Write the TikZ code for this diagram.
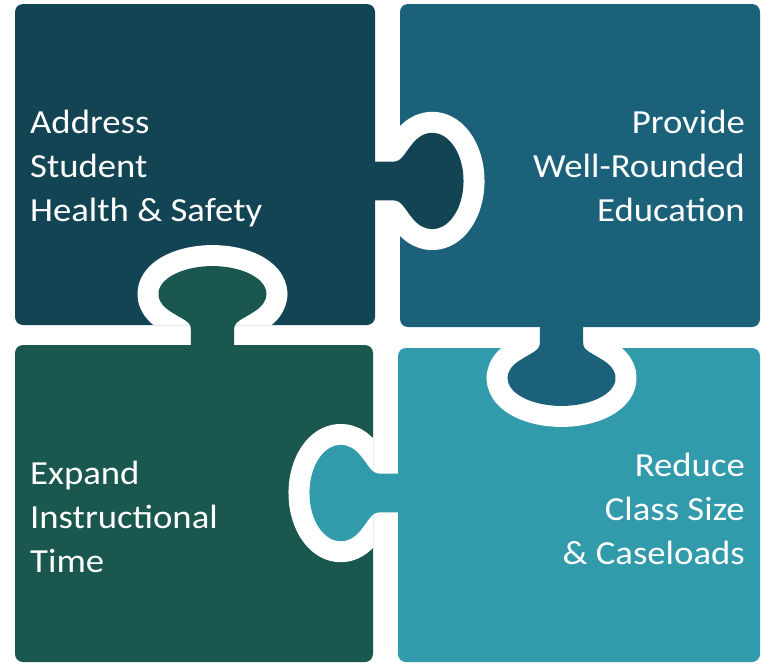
\documentclass[tikz,border=0pt]{standalone}
\usepackage{fontspec}
\setmainfont{Carlito}
\newfontfamily\piecefont[FakeStretch=1.09]{Carlito}
\usepackage{xcolor}
\usetikzlibrary{calc}

\definecolor{pieceTL}{RGB}{19,68,84}
\definecolor{pieceTR}{RGB}{27,97,121}
\definecolor{pieceBL}{RGB}{26,87,79}
\definecolor{pieceBR}{RGB}{49,154,171}

% one tab, pointing along +x, neck starting at the edge of its own piece
\def\knobpath{(-4,-20.5) -- (17,-20.5) .. controls (25,-20.5) and (26.5,-27.3) .. (35.7,-40)
  arc[start angle=-128.4, end angle=128.4, x radius=29.5, y radius=51]
  .. controls (26.5,27.3) and (25,20.5) .. (17,20.5) -- (-4,20.5) -- cycle}

\begin{document}
\begin{tikzpicture}[x=1pt,y=-1pt,
                    piece/.style={rounded corners=8pt},
                    knob/.style 2 args={shift={#1},xscale=1.06,yscale=0.945,rotate=#2},
                    gap line/.style={draw=white,line width=42pt,line join=round},
                    label text/.style={text=white,inner sep=0pt,font=\piecefont\fontsize{33.7}{44}\selectfont}]

  \useasboundingbox (0,0) rectangle (761,664);

  \fill[pieceTL,piece] (15,4) rectangle (375,325);
  \fill[pieceTR,piece] (400,4) rectangle (760,327);
  \fill[pieceBL,piece] (15,345) rectangle (373,662);
  \fill[pieceBR,piece] (398,348) rectangle (760,662);

  % tabs: white rim inside the other piece, then the tab itself
  \begin{scope}
    \clip[piece] (400,4) rectangle (760,327);
    \path[gap line,knob={(375,181)}{0}] \knobpath;
  \end{scope}
  \fill[pieceTL,knob={(375,181)}{0}] \knobpath;

  \begin{scope}
    \clip[piece] (398,348) rectangle (760,662);
    \path[gap line,knob={(561.5,327)}{-90}] \knobpath;
  \end{scope}
  \fill[pieceTR,knob={(561.5,327)}{-90}] \knobpath;

  \begin{scope}
    \clip[piece] (15,4) rectangle (375,325);
    \path[gap line,knob={(212.5,345)}{90}] \knobpath;
  \end{scope}
  \fill[pieceBL,knob={(212.5,345)}{90}] \knobpath;

  \begin{scope}
    \clip[piece] (15,345) rectangle (373,662);
    \path[gap line,knob={(398,493)}{180}] \knobpath;
  \end{scope}
  \fill[pieceBR,knob={(398,493)}{180}] \knobpath;

  \node[label text,anchor=base west,align=left] (address) at (30,221)
    {Address\\Student\\Health \& Safety};
  \node[label text,anchor=base east,align=right] (provide) at (745,221)
    {Provide\\Well-Rounded\\Education};
  \node[label text,anchor=base west,align=left] (expand) at (30,572)
    {Expand\\Instructional\\Time};
  \node[label text,anchor=base east,align=right] (reduce) at (745,564)
    {Reduce\\Class Size\\\& Caseloads};

\end{tikzpicture}
\end{document}
